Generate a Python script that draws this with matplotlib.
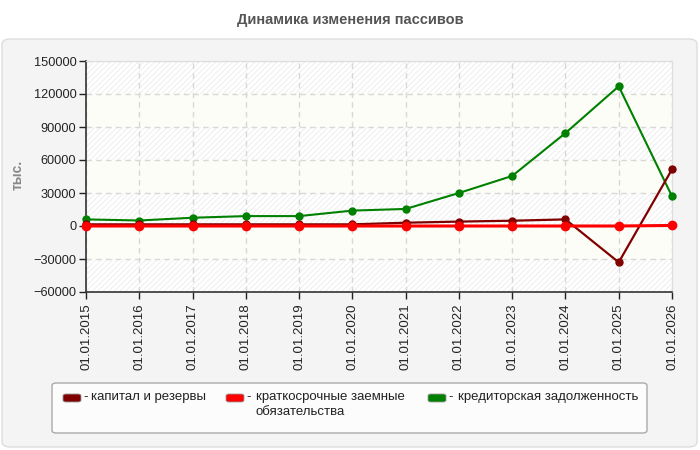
import matplotlib
matplotlib.use("Agg")
import matplotlib.pyplot as plt
from matplotlib.patches import FancyBboxPatch, Rectangle

plt.rcParams['font.family'] = ['Liberation Sans', 'DejaVu Sans']
plt.rcParams['hatch.linewidth'] = 0.7

# data (тыс.)
dates = ['01.01.2015', '01.01.2016', '01.01.2017', '01.01.2018', '01.01.2019', '01.01.2020',
         '01.01.2021', '01.01.2022', '01.01.2023', '01.01.2024', '01.01.2025', '01.01.2026']
capital = [1500, 1500, 1500, 1500, 1500, 1500, 3000, 4000, 4800, 6000, -33000, 51500]
short_loans = [0, 0, 0, 0, 0, 0, 0, 0, 0, 0, 0, 500]
payables = [6000, 5000, 7500, 9000, 9000, 14000, 15500, 30000, 45500, 84500, 127000, 27000]

series_names = ['капитал и резервы', 'краткосрочные заемные\nобязательства', 'кредиторская задолженность']
series_colors = ['#800000', '#ff0000', '#008000']

fig = plt.figure(figsize=(7, 4.5), dpi=100)
fig.patch.set_facecolor('white')

# grey panel
panel = FancyBboxPatch((2 / 700, 3 / 450), 695 / 700, 408 / 450, transform=fig.transFigure,
                       boxstyle='round,pad=0,rounding_size=0.012', facecolor='#f4f4f4',
                       edgecolor='#dddddd', linewidth=1, zorder=-2)
fig.patches.append(panel)

fig.text(0.5, 1 - 20 / 450, 'Динамика изменения пассивов', ha='center', va='center',
         fontsize=10.5, fontweight='bold', color='#555555')

ax = fig.add_axes([86 / 700, 1 - 292 / 450, (672 - 86) / 700, (292 - 61) / 450])
ax.set_facecolor('white')
x = list(range(len(dates)))

# hatched background with plain bands
ax.add_patch(Rectangle((0, 0), 1, 1, transform=ax.transAxes, facecolor='white',
                       edgecolor='#eeeeee', hatch='//////', linewidth=0, zorder=0))
for lo in [-30000, 30000, 90000]:
    ax.axhspan(lo, lo + 30000, facecolor='#fdfdf7', edgecolor='none', zorder=0.5)

ax.set_xlim(0, len(dates) - 1)
ax.set_ylim(-60000, 150000)
ax.set_yticks(range(-60000, 150001, 30000))
ax.set_xticks(x)
ax.set_xticklabels(dates, rotation=90)
ax.grid(True, color='#d8d8d8', linestyle=(0, (4, 3)), linewidth=1, zorder=1)
ax.tick_params(axis='x', labelsize=9.5, colors='#222222', length=5, width=1, pad=3)
ax.tick_params(axis='y', labelsize=9.2, colors='#222222', length=5, width=1, pad=2)
for s in ['top', 'right']:
    ax.spines[s].set_color('#dddddd')
for s in ['left', 'bottom']:
    ax.spines[s].set_color('#333333')
    ax.spines[s].set_linewidth(1.2)

ax.plot(x, payables, color=series_colors[2], lw=1.5, marker='o', ms=5, zorder=3, clip_on=False)
ax.plot(x, capital, color=series_colors[0], lw=1.6, marker='o', ms=5, zorder=4, clip_on=False)
ax.plot(x, short_loans, color=series_colors[1], lw=2.2, marker='o', ms=6, zorder=5, clip_on=False)

fig.text(18 / 700, 1 - 175 / 450, 'тыс.', rotation=90, ha='center', va='center',
         fontsize=10, fontweight='bold', color='#888888')

# legend
leg = FancyBboxPatch((52 / 700, 1 - 433 / 450), 595 / 700, 50 / 450, transform=fig.transFigure,
                     boxstyle='round,pad=0,rounding_size=0.006', facecolor='#fcfcfc',
                     edgecolor='#aaaaaa', linewidth=1, zorder=1)
fig.patches.append(leg)
for name, color, px, tx in zip(series_names, series_colors, [63, 226, 428], [91, 256, 458]):
    fig.patches.append(FancyBboxPatch((px / 700, 1 - 402 / 450), 18 / 700, 8 / 450,
                                      transform=fig.transFigure,
                                      boxstyle='round,pad=0,rounding_size=0.004',
                                      facecolor=color, edgecolor='#999999', linewidth=0.6, zorder=2))
    fig.text((px + 20) / 700, 1 - 391 / 450, '-', ha='left', va='top', fontsize=9.5, color='#222222')
    fig.text(tx / 700, 1 - 391 / 450, name, ha='left', va='top', fontsize=9.5,
             color='#222222', linespacing=1.3)

fig.savefig('out.png', dpi=100)
